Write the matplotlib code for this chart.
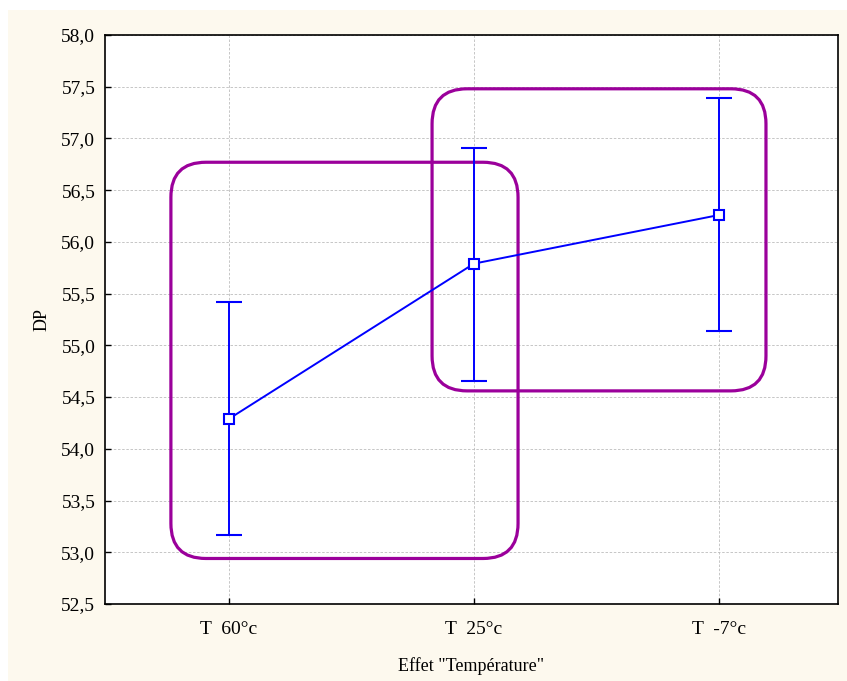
import matplotlib.pyplot as plt
from matplotlib.patches import FancyBboxPatch, Rectangle
from matplotlib.ticker import FuncFormatter, MultipleLocator

categories = ['T  60°c', 'T  25°c', 'T  -7°c']
means = [54.29, 55.79, 56.26]
lower = [53.17, 54.66, 55.14]
upper = [55.42, 56.91, 57.39]

# highlight boxes (x0, y0, x1, y1) in data units
boxes = [(-0.237, 52.94, 1.180, 56.77), (0.829, 54.56, 2.192, 57.48)]

plt.rcParams['font.family'] = ['Liberation Serif', 'DejaVu Serif']

fig = plt.figure(figsize=(8.47, 6.81), dpi=100)
fig.patch.set_facecolor('white')
fig.patches.append(Rectangle((8 / 847, 0), 1, 1 - 10 / 681, transform=fig.transFigure,
                             facecolor='#fdf9ee', edgecolor='none', zorder=-10))

ax = fig.add_axes([105 / 847, 1 - 604 / 681, (838 - 105) / 847, (604 - 35) / 681])
ax.set_facecolor('white')

x = list(range(len(categories)))
yerr = [[m - l for m, l in zip(means, lower)], [u - m for u, m in zip(upper, means)]]
ax.errorbar(x, means, yerr=yerr, color='#0000ff', lw=1.4, capsize=9.5, capthick=1.4,
            marker='s', ms=6.5, mfc='white', mec='#0000ff', mew=1.5, zorder=5)

ax.set_xlim(-0.506, 2.486)
ax.set_ylim(52.5, 58.0)

for x0, y0, x1, y1 in boxes:
    p = FancyBboxPatch((x0, y0), x1 - x0, y1 - y0,
                       boxstyle='round,pad=0,rounding_size=0.143',
                       mutation_aspect=2.37, facecolor='none',
                       edgecolor='#9b009b', lw=2.3, zorder=4)
    ax.add_patch(p)

ax.set_xticks(x)
ax.set_xticklabels(categories)
ax.yaxis.set_major_locator(MultipleLocator(0.5))
ax.yaxis.set_major_formatter(FuncFormatter(lambda v, p: f'{v:.1f}'.replace('.', ',')))
ax.tick_params(direction='in', length=4, width=1, labelsize=14, pad=7)
ax.tick_params(axis='x', pad=12)
ax.grid(True, color='#bdbdbd', ls=(0, (3, 2)), lw=0.6)
for s in ax.spines.values():
    s.set_linewidth(1.2)

ax.set_ylabel('DP', fontsize=13, labelpad=8)
ax.set_xlabel('Effet "Température"', fontsize=13, labelpad=14)

fig.savefig('out.png', dpi=100, facecolor=fig.get_facecolor())
